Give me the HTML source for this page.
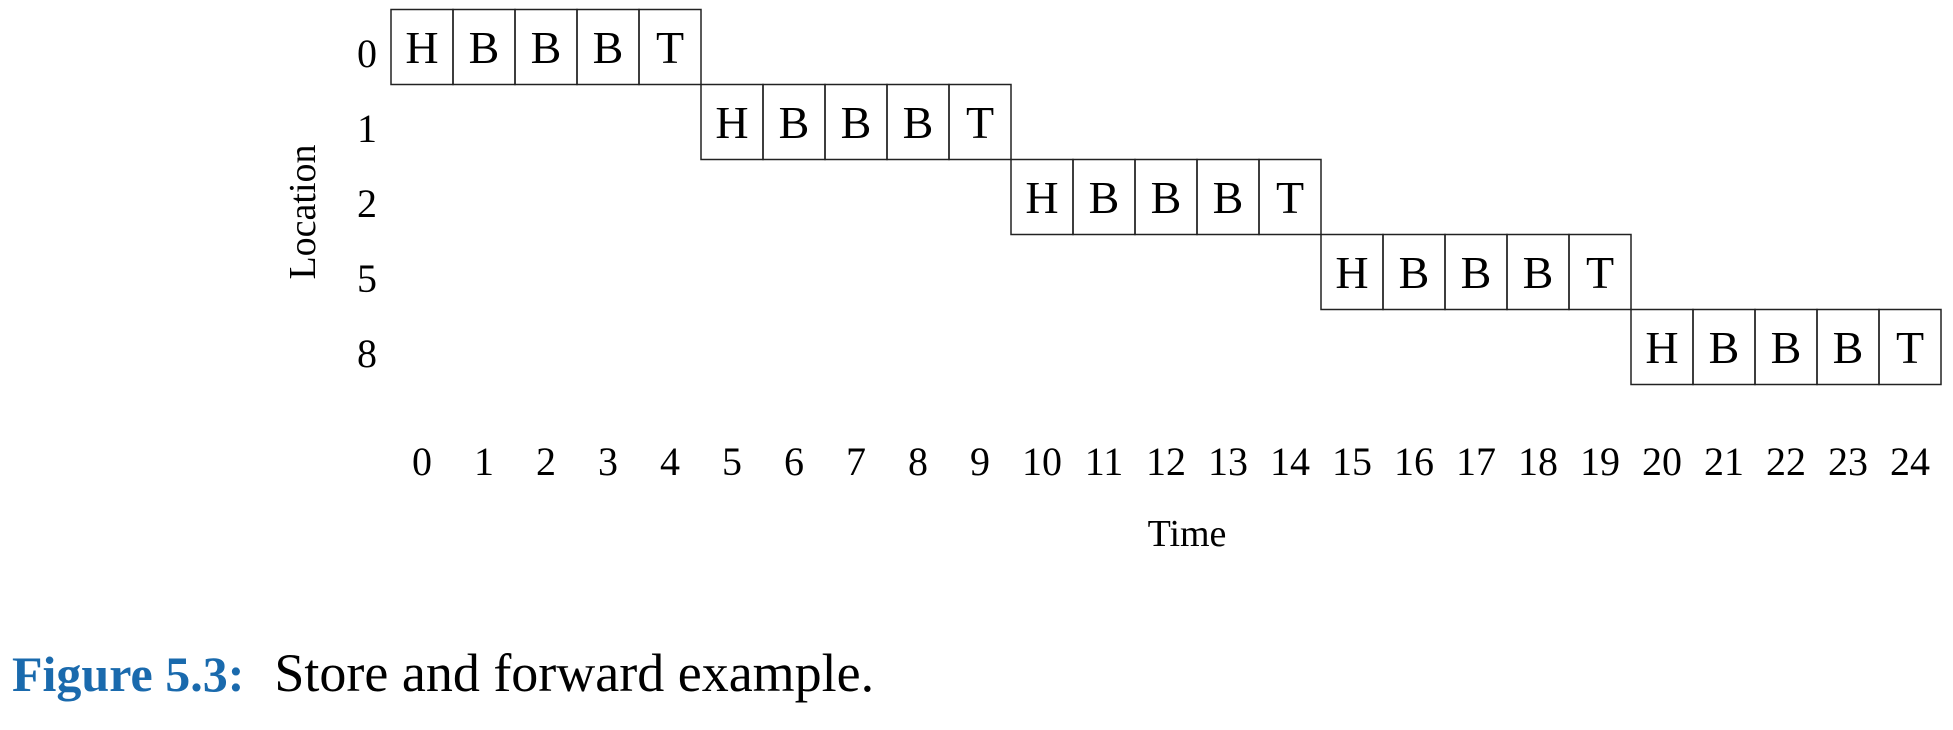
<!DOCTYPE html>
<html><head><meta charset="utf-8"><style>
html,body{margin:0;padding:0;background:#fff;}
svg{display:block;font-family:"Liberation Serif",serif;}
</style></head><body>
<svg id="chart" width="1953" height="730">
<g id="cells"></g>
<g id="yt"></g>
<g id="xt"></g>
<text x="1187" y="546" font-size="38" text-anchor="middle">Time</text>
<text transform="translate(315,212) rotate(-90)" font-size="38" text-anchor="middle">Location</text>
<text x="12" y="691" font-size="54"><tspan fill="#1a6aad" font-weight="bold" font-size="50">Figure 5.3:</tspan><tspan dx="30">Store and forward example.</tspan></text>
</svg>
<script>
const locations = ["0","1","2","5","8"];
const startTimes = [0,5,10,15,20];
const packetFlits = ["H","B","B","B","T"];
const timeTicks = [0,1,2,3,4,5,6,7,8,9,10,11,12,13,14,15,16,17,18,19,20,21,22,23,24];
const NS="http://www.w3.org/2000/svg";
const x0=391, cw=62, y0=9.5, rh=75;
const xs=t=>x0+t*cw, ys=r=>y0+r*rh;
const cells=document.getElementById('cells'), yt=document.getElementById('yt'), xt=document.getElementById('xt');
locations.forEach((loc,r)=>{
  packetFlits.forEach((f,i)=>{
    const t=startTimes[r]+i;
    const rect=document.createElementNS(NS,'rect');
    rect.setAttribute('x',xs(t));rect.setAttribute('y',ys(r));
    rect.setAttribute('width',cw);rect.setAttribute('height',rh);
    rect.setAttribute('fill','none');rect.setAttribute('stroke','#222');rect.setAttribute('stroke-width','1.5');
    
    
    cells.appendChild(rect);
    const tx=document.createElementNS(NS,'text');
    tx.setAttribute('x',xs(t)+cw/2);tx.setAttribute('y',ys(r)+rh/2+16);
    tx.setAttribute('font-size','46');tx.setAttribute('text-anchor','middle');
    tx.textContent=f;
    
    
    cells.appendChild(tx);
  });
  const l=document.createElementNS(NS,'text');
  l.setAttribute('x',367);l.setAttribute('y',ys(r)+rh/2+20);
  l.setAttribute('font-size','40');l.setAttribute('text-anchor','middle');
  l.textContent=loc;
  
  
  yt.appendChild(l);
});
timeTicks.forEach(t=>{
  const l=document.createElementNS(NS,'text');
  l.setAttribute('x',xs(t)+cw/2);l.setAttribute('y',475);
  l.setAttribute('font-size','40');l.setAttribute('text-anchor','middle');
  l.textContent=t;
  
  
  xt.appendChild(l);
});
</script>
</body></html>
